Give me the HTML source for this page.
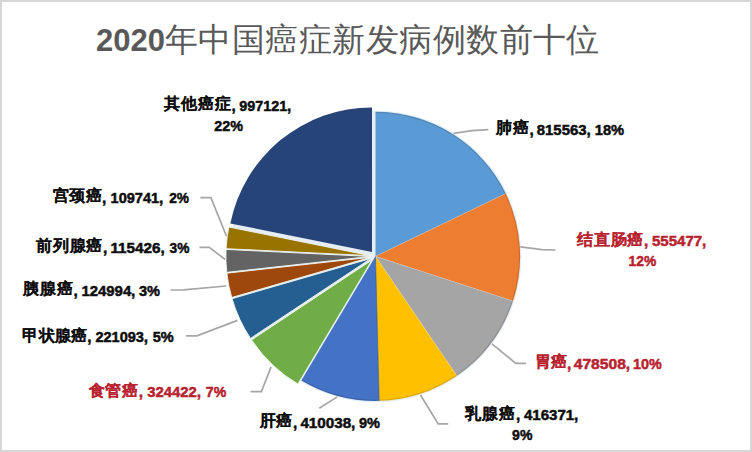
<!DOCTYPE html>
<html><head><meta charset="utf-8">
<style>
html,body{margin:0;padding:0;background:#fff;}
body{width:752px;height:452px;position:relative;overflow:hidden;font-family:"Liberation Sans",sans-serif;}
svg{position:absolute;left:0;top:0;}
svg text{font-family:"Liberation Sans",sans-serif;font-weight:bold;font-size:15.4px;}
svg text.c{font-size:15.8px;font-weight:bold;}
svg text.tt{font-weight:300;font-size:33px;}
svg text.td{font-weight:bold;font-size:31px;}
</style></head><body>
<svg width="752" height="452" viewBox="0 0 752 452">
<rect x="1" y="1" width="750" height="450" fill="#fff" stroke="#d6d6d6" stroke-width="2"/>
<g>
<circle cx="375.5" cy="256.3" r="145.90" fill="#e6edf4"/>
<path d="M375.50,256.30 L375.50,111.70 A144.6,144.6 0 0 1 505.76,193.51 Z" fill="#5B9BD5"/>
<path d="M375.50,256.30 L505.76,193.51 A144.6,144.6 0 0 1 513.00,301.06 Z" fill="#ED7D31"/>
<path d="M375.50,256.30 L513.00,301.06 A144.6,144.6 0 0 1 456.91,375.81 Z" fill="#A5A5A5"/>
<path d="M375.50,256.30 L456.91,375.81 A144.6,144.6 0 0 1 379.17,400.85 Z" fill="#FFC000"/>
<path d="M375.50,256.30 L379.17,400.85 A144.6,144.6 0 0 1 301.34,380.43 Z" fill="#4472C4"/>
<path d="M372.05,259.92 L297.89,384.05 A144.6,144.6 0 0 1 251.58,339.90 Z" fill="#70AD47" stroke="#eef6f2" stroke-width="0.9" stroke-linejoin="round"/>
<path d="M370.96,258.40 L250.50,338.39 A144.6,144.6 0 0 1 232.08,298.65 Z" fill="#255E91" stroke="#eef6f2" stroke-width="0.9" stroke-linejoin="round"/>
<path d="M370.60,257.27 L231.71,297.52 A144.6,144.6 0 0 1 226.87,273.17 Z" fill="#9E480E" stroke="#eef6f2" stroke-width="0.9" stroke-linejoin="round"/>
<path d="M370.50,256.45 L226.78,272.35 A144.6,144.6 0 0 1 226.07,249.43 Z" fill="#636363" stroke="#eef6f2" stroke-width="0.9" stroke-linejoin="round"/>
<path d="M370.54,255.68 L226.11,248.66 A144.6,144.6 0 0 1 228.81,227.02 Z" fill="#997300" stroke="#eef6f2" stroke-width="0.9" stroke-linejoin="round"/>
<path d="M372.02,252.04 L230.29,223.39 A144.6,144.6 0 0 1 372.02,107.44 Z" fill="#264478"/>
<line x1="375.50" y1="256.30" x2="505.76" y2="193.51" stroke="#fff" stroke-opacity="0.2" stroke-width="1"/>
<line x1="375.50" y1="256.30" x2="513.00" y2="301.06" stroke="#fff" stroke-opacity="0.2" stroke-width="1"/>
<line x1="375.50" y1="256.30" x2="456.91" y2="375.81" stroke="#fff" stroke-opacity="0.2" stroke-width="1"/>
<path d="M375.50,112.30 A144.00,144.00 0 1 1 301.65,379.92" fill="none" stroke="#000" stroke-opacity="0.13" stroke-width="1.2"/>
<line x1="375.50" y1="256.30" x2="379.17" y2="400.85" stroke="#2a4a7a" stroke-opacity="0.5" stroke-width="1"/>
</g>
<g fill="none" stroke="#a6a6a6" stroke-width="1.7">
<polyline points="453.6,133.4 472,130.6 488.3,129.6"/>
<polyline points="520.4,246.8 541.9,249.6 555.5,250"/>
<polyline points="491.9,343.8 515.8,363.3 526,363.3"/>
<polyline points="420.5,395 438.2,423.9 448.2,423.9"/>
<polyline points="337.2,396.9 319.3,408.2"/>
<polyline points="271.1,366.9 261.4,391.6 250.5,391.6"/>
<polyline points="237.5,320.4 196.9,335.9 186,335.9"/>
<polyline points="226.3,286 183.4,289.8 170.5,290"/>
<polyline points="225,259.3 209.2,247.3 199.4,247.3"/>
<polyline points="226.5,236.3 210.9,197.7 200.3,197.7"/>
</g>
<text class="td" x="96" y="50.5" fill="#595959">2020</text>
<text class="tt" x="165.00 198.45 231.90 265.35 298.80 332.25 365.70 399.15 432.60 466.05 499.50 532.95 566.40" y="50.5" fill="#595959">年中国癌症新发病例数前十位</text>
<text class="c" x="163.67 180.66 197.65 214.64" y="109.40" fill="#0d0d0d" stroke="#0d0d0d" stroke-width="0.1">其他癌症</text>
<text x="231.50" y="110.70" fill="#0d0d0d" stroke="#0d0d0d" stroke-width="0.5" font-size="16">,</text>
<text x="239.28" y="110.70" textLength="47.93" lengthAdjust="spacingAndGlyphs" fill="#0d0d0d" stroke="#0d0d0d" stroke-width="0.5">997121</text>
<text x="287.10" y="110.70" fill="#0d0d0d" stroke="#0d0d0d" stroke-width="0.5" font-size="16">,</text>
<text x="214.18" y="130.50" textLength="28.73" lengthAdjust="spacingAndGlyphs" fill="#0d0d0d" stroke="#0d0d0d" stroke-width="0.5">22%</text>
<text class="c" x="495.97 512.75" y="133.40" fill="#0d0d0d" stroke="#0d0d0d" stroke-width="0.1">肺癌</text>
<text x="529.40" y="134.70" fill="#0d0d0d" stroke="#0d0d0d" stroke-width="0.5" font-size="16">,</text>
<text x="536.78" y="134.70" textLength="49.73" lengthAdjust="spacingAndGlyphs" fill="#0d0d0d" stroke="#0d0d0d" stroke-width="0.5">815563</text>
<text x="586.40" y="134.70" fill="#0d0d0d" stroke="#0d0d0d" stroke-width="0.5" font-size="16">,</text>
<text x="594.78" y="134.70" textLength="29.43" lengthAdjust="spacingAndGlyphs" fill="#0d0d0d" stroke="#0d0d0d" stroke-width="0.5">18%</text>
<text class="c" x="577.17 593.93 610.70 627.47" y="244.70" fill="#b8222f" stroke="#b8222f" stroke-width="0.1">结直肠癌</text>
<text x="644.10" y="246.00" fill="#b8222f" stroke="#b8222f" stroke-width="0.5" font-size="16">,</text>
<text x="651.98" y="246.00" textLength="50.23" lengthAdjust="spacingAndGlyphs" fill="#b8222f" stroke="#b8222f" stroke-width="0.5">555477</text>
<text x="702.10" y="246.00" fill="#b8222f" stroke="#b8222f" stroke-width="0.5" font-size="16">,</text>
<text x="628.58" y="265.90" textLength="27.63" lengthAdjust="spacingAndGlyphs" fill="#b8222f" stroke="#b8222f" stroke-width="0.5">12%</text>
<text class="c" x="535.37 551.25" y="367.30" fill="#b8222f" stroke="#b8222f" stroke-width="0.1">胃癌</text>
<text x="567.00" y="368.60" fill="#b8222f" stroke="#b8222f" stroke-width="0.5" font-size="16">,</text>
<text x="573.68" y="368.60" textLength="52.23" lengthAdjust="spacingAndGlyphs" fill="#b8222f" stroke="#b8222f" stroke-width="0.5">478508</text>
<text x="625.80" y="368.60" fill="#b8222f" stroke="#b8222f" stroke-width="0.5" font-size="16">,</text>
<text x="632.98" y="368.60" textLength="28.83" lengthAdjust="spacingAndGlyphs" fill="#b8222f" stroke="#b8222f" stroke-width="0.5">10%</text>
<text class="c" x="465.37 482.32 499.28" y="418.80" fill="#0d0d0d" stroke="#0d0d0d" stroke-width="0.1">乳腺癌</text>
<text x="516.10" y="420.10" fill="#0d0d0d" stroke="#0d0d0d" stroke-width="0.5" font-size="16">,</text>
<text x="523.98" y="420.10" textLength="50.23" lengthAdjust="spacingAndGlyphs" fill="#0d0d0d" stroke="#0d0d0d" stroke-width="0.5">416371</text>
<text x="574.10" y="420.10" fill="#0d0d0d" stroke="#0d0d0d" stroke-width="0.5" font-size="16">,</text>
<text x="512.08" y="439.90" textLength="20.33" lengthAdjust="spacingAndGlyphs" fill="#0d0d0d" stroke="#0d0d0d" stroke-width="0.5">9%</text>
<text class="c" x="259.57 276.35" y="426.40" fill="#0d0d0d" stroke="#0d0d0d" stroke-width="0.1">肝癌</text>
<text x="293.00" y="427.70" fill="#0d0d0d" stroke="#0d0d0d" stroke-width="0.5" font-size="16">,</text>
<text x="300.38" y="427.70" textLength="50.83" lengthAdjust="spacingAndGlyphs" fill="#0d0d0d" stroke="#0d0d0d" stroke-width="0.5">410038</text>
<text x="351.10" y="427.70" fill="#0d0d0d" stroke="#0d0d0d" stroke-width="0.5" font-size="16">,</text>
<text x="358.98" y="427.70" textLength="21.03" lengthAdjust="spacingAndGlyphs" fill="#0d0d0d" stroke="#0d0d0d" stroke-width="0.5">9%</text>
<text class="c" x="88.57 105.36 122.14" y="395.80" fill="#b8222f" stroke="#b8222f" stroke-width="0.1">食管癌</text>
<text x="138.80" y="397.10" fill="#b8222f" stroke="#b8222f" stroke-width="0.5" font-size="16">,</text>
<text x="147.18" y="397.10" textLength="49.63" lengthAdjust="spacingAndGlyphs" fill="#b8222f" stroke="#b8222f" stroke-width="0.5">324422</text>
<text x="196.70" y="397.10" fill="#b8222f" stroke="#b8222f" stroke-width="0.5" font-size="16">,</text>
<text x="205.78" y="397.10" textLength="20.43" lengthAdjust="spacingAndGlyphs" fill="#b8222f" stroke="#b8222f" stroke-width="0.5">7%</text>
<text class="c" x="22.47 38.71 54.95 71.19" y="340.60" fill="#0d0d0d" stroke="#0d0d0d" stroke-width="0.1">甲状腺癌</text>
<text x="87.30" y="341.90" fill="#0d0d0d" stroke="#0d0d0d" stroke-width="0.5" font-size="16">,</text>
<text x="95.38" y="341.90" textLength="48.53" lengthAdjust="spacingAndGlyphs" fill="#0d0d0d" stroke="#0d0d0d" stroke-width="0.5">221093</text>
<text x="143.80" y="341.90" fill="#0d0d0d" stroke="#0d0d0d" stroke-width="0.5" font-size="16">,</text>
<text x="152.78" y="341.90" textLength="21.03" lengthAdjust="spacingAndGlyphs" fill="#0d0d0d" stroke="#0d0d0d" stroke-width="0.5">5%</text>
<text class="c" x="22.77 39.72 56.68" y="294.20" fill="#0d0d0d" stroke="#0d0d0d" stroke-width="0.1">胰腺癌</text>
<text x="73.50" y="295.50" fill="#0d0d0d" stroke="#0d0d0d" stroke-width="0.5" font-size="16">,</text>
<text x="81.38" y="295.50" textLength="49.83" lengthAdjust="spacingAndGlyphs" fill="#0d0d0d" stroke="#0d0d0d" stroke-width="0.5">124994</text>
<text x="131.10" y="295.50" fill="#0d0d0d" stroke="#0d0d0d" stroke-width="0.5" font-size="16">,</text>
<text x="138.98" y="295.50" textLength="21.03" lengthAdjust="spacingAndGlyphs" fill="#0d0d0d" stroke="#0d0d0d" stroke-width="0.5">3%</text>
<text class="c" x="35.97 52.73 69.50 86.27" y="251.40" fill="#0d0d0d" stroke="#0d0d0d" stroke-width="0.1">前列腺癌</text>
<text x="102.90" y="252.70" fill="#0d0d0d" stroke="#0d0d0d" stroke-width="0.5" font-size="16">,</text>
<text x="110.38" y="252.70" textLength="50.23" lengthAdjust="spacingAndGlyphs" fill="#0d0d0d" stroke="#0d0d0d" stroke-width="0.5">115426</text>
<text x="160.50" y="252.70" fill="#0d0d0d" stroke="#0d0d0d" stroke-width="0.5" font-size="16">,</text>
<text x="169.58" y="252.70" textLength="19.83" lengthAdjust="spacingAndGlyphs" fill="#0d0d0d" stroke="#0d0d0d" stroke-width="0.5">3%</text>
<text class="c" x="52.87 69.26 85.64" y="201.40" fill="#0d0d0d" stroke="#0d0d0d" stroke-width="0.1">宫颈癌</text>
<text x="101.90" y="202.70" fill="#0d0d0d" stroke="#0d0d0d" stroke-width="0.5" font-size="16">,</text>
<text x="110.58" y="202.70" textLength="48.53" lengthAdjust="spacingAndGlyphs" fill="#0d0d0d" stroke="#0d0d0d" stroke-width="0.5">109741</text>
<text x="159.00" y="202.70" fill="#0d0d0d" stroke="#0d0d0d" stroke-width="0.5" font-size="16">,</text>
<text x="169.18" y="202.70" textLength="19.83" lengthAdjust="spacingAndGlyphs" fill="#0d0d0d" stroke="#0d0d0d" stroke-width="0.5">2%</text>
</svg>
</body></html>
